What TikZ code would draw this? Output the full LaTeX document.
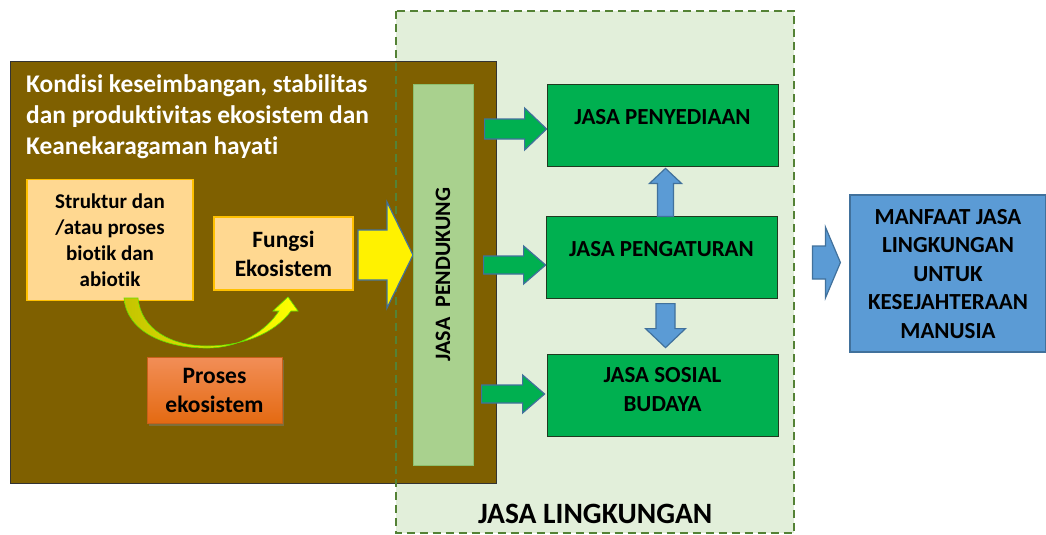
\documentclass[tikz,border=0pt]{standalone}
\usepackage{fontspec}
\setmainfont{Carlito}[Ligatures={NoCommon}]
\usetikzlibrary{calc,shadows}
\definecolor{brownbg}{HTML}{7F6000}
\definecolor{lingfill}{HTML}{E2EFDA}
\definecolor{lingdraw}{HTML}{548235}
\definecolor{pendfill}{HTML}{A9D18E}
\definecolor{penddraw}{HTML}{8DC06E}
\definecolor{gfill}{HTML}{00B050}
\definecolor{gdraw}{HTML}{203A20}
\definecolor{bfill}{HTML}{5B9BD5}
\definecolor{bdraw}{HTML}{41719C}
\definecolor{sfill}{HTML}{FFD891}
\definecolor{sdraw}{HTML}{FFC000}
\definecolor{ptop}{HTML}{F28E57}
\definecolor{pbot}{HTML}{E46A12}
\definecolor{pdraw}{HTML}{C8601A}
\definecolor{olive}{HTML}{C4C400}
% right-pointing block arrow: #1 style, #2 tip, #3 length, #4 head length, #5 head half width, #6 shaft half width
\newcommand{\blockR}[6]{\draw[#1,shift={#2}] (0,0) -- (-#4,-#5) -- (-#4,-#6) -- (-#3,-#6) -- (-#3,#6) -- (-#4,#6) -- (-#4,#5) -- cycle;}
% vertical block arrow: #7 = 1 for down (tip at bottom), -1 for up
\newcommand{\blockV}[7]{\draw[#1,shift={#2},yscale=#7] (0,0) -- (-#5,-#4) -- (-#6,-#4) -- (-#6,-#3) -- (#6,-#3) -- (#6,-#4) -- (#5,-#4) -- cycle;}
\begin{document}
\begin{tikzpicture}[x=1pt,y=-1pt,
  every node/.style={inner sep=0pt, font=\bfseries},
  lbox/.style={fill=sfill, draw=sdraw, line width=1.2pt, align=center, font=\bfseries\fontsize{21}{26}\selectfont},
  gbox/.style={fill=gfill, draw=gdraw, line width=0.8pt, minimum width=231, minimum height=82, align=center, font=\bfseries\fontsize{23}{29}\selectfont},
  garrow/.style={fill=gfill, draw=bdraw, line width=1.2pt},
  barrow/.style={fill=bfill, draw=bdraw, line width=1.2pt},
]
\useasboundingbox (0,0) rectangle (1046,535);
\fill[white] (0,0) rectangle (1046,535);
% Jasa lingkungan background
\node[fill=lingfill, minimum width=398, minimum height=522, anchor=north west] (ling) at (396,11) {};
% brown background
\node[fill=brownbg, draw=black!80, line width=0.8pt, minimum width=486, minimum height=422, anchor=north west] (brown) at (10,61) {};
\draw[lingdraw, line width=2pt, dash pattern=on 8pt off 5pt] (ling.north west) rectangle (ling.south east);
\node[anchor=south] (lingtxt) at ($(ling.south)+(0,-9)$) {\fontsize{29.5}{32}\selectfont JASA LINGKUNGAN};
% title
\node[anchor=north west, align=left, text=white, font=\bfseries\fontsize{25.4}{31}\selectfont] (title) at (26,74.5)
  {Kondisi keseimbangan, stabilitas\\dan produktivitas ekosistem dan\\Keanekaragaman hayati};
% left boxes
\node[lbox, minimum width=166, minimum height=121] (struk) at (110,240) {Struktur dan\\/atau proses\\biotik dan\\abiotik};
\node[lbox, minimum width=139, minimum height=73, font=\bfseries\fontsize{23.4}{29}\selectfont] (fungsi) at (283.5,253.5) {Fungsi\\Ekosistem};
\node[top color=ptop, bottom color=pbot, draw=pdraw, line width=0.8pt, minimum width=135, minimum height=66, align=center,
  font=\bfseries\fontsize{23.5}{29}\selectfont, drop shadow={shadow xshift=2pt, shadow yshift=-3pt, opacity=0.45}] (proses) at (214.5,390) {Proses\\ekosistem};
% curved arrow
\draw[left color=olive, right color=yellow, draw=green!50!olive, line width=0.6pt]
  (124,298) .. controls (127,332) and (165,348) .. (207,348)
  .. controls (240,348) and (266,331) .. (279,311) -- (273,311) -- (288,297) -- (298,311) -- (291,311)
  .. controls (274,334) and (242,346) .. (207,346)
  .. controls (172,346) and (141,330) .. (138,298) -- cycle;
% yellow big arrow
\blockR{fill=yellow, draw=bdraw, line width=1.2pt}{(413,255)}{55}{26}{53}{25}
% pendukung bar
\node[fill=pendfill, draw=penddraw, line width=1pt, rotate=90, minimum width=381, minimum height=60,
  font=\bfseries\fontsize{22}{24}\selectfont] (pend) at (443,274.5) {JASA\ \ PENDUKUNG};
% green boxes
\node[gbox, text depth=16pt] (b1) at (662.5,125) {JASA PENYEDIAAN};
\node[gbox, text depth=16pt] (b2) at (661.5,257) {JASA PENGATURAN};
\node[gbox, text depth=11pt] (b3) at (662.5,395) {JASA SOSIAL\\BUDAYA};
% green arrows
\blockR{garrow}{($(b1.west)+(0,4)$)}{62}{22}{21}{10}
\blockR{garrow}{($(b2.west)+(0,8)$)}{62}{22}{19}{9}
\blockR{garrow}{($(b3.west)+(-2,-1)$)}{63}{22}{19}{9}
% blue vertical arrows
\blockV{barrow}{($(b1.south)+(3,2)$)}{48}{15}{16}{8}{-1}
\blockV{barrow}{($(b3.north)+(3,-6)$)}{44}{19}{20}{9.5}{1}
% manfaat
\node[fill=bfill, draw=bdraw, line width=1.2pt, minimum width=196, minimum height=157, align=center,
  font=\bfseries\fontsize{23}{28.5}\selectfont, text depth=-5pt] (manf) at (948,273.5)
  {MANFAAT JASA\\LINGKUNGAN\\UNTUK\\KESEJAHTERAAN\\MANUSIA};
\blockR{barrow}{($(manf.west)+(-9,-11)$)}{28}{15}{35.5}{16.5}
\end{tikzpicture}
\end{document}
